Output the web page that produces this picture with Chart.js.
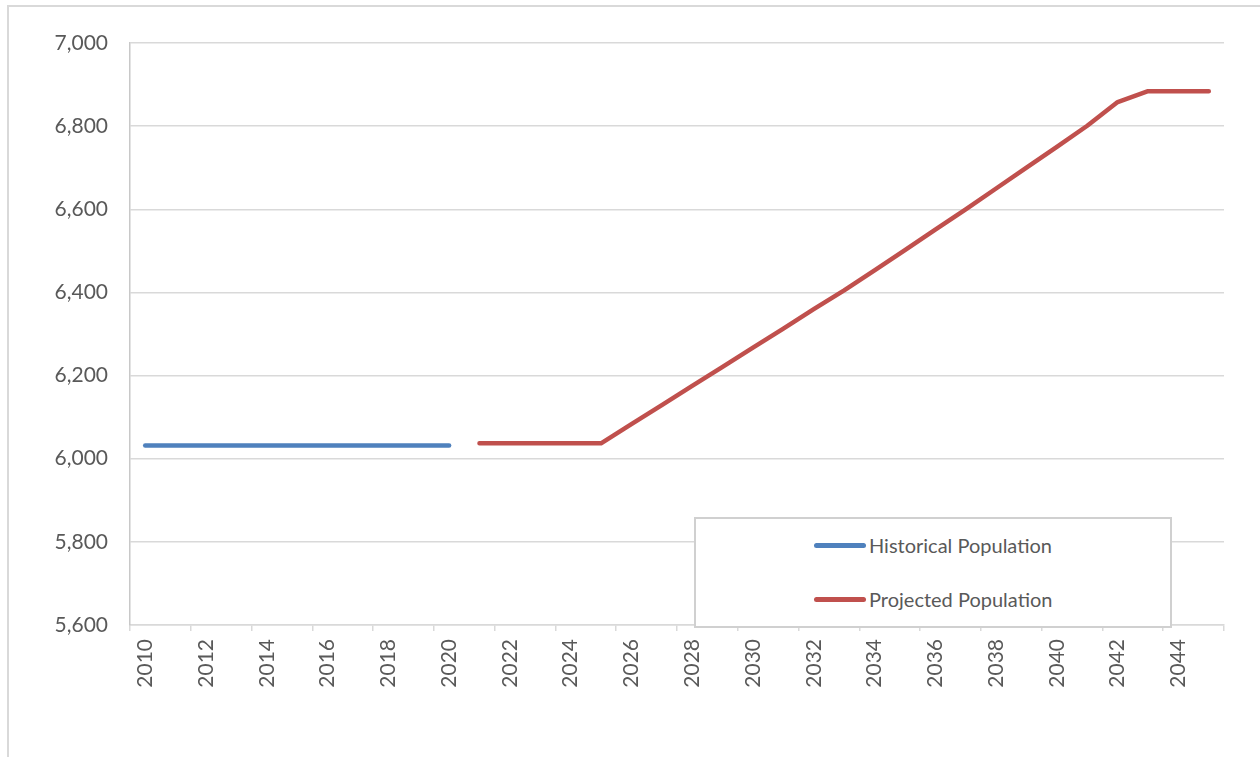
<!DOCTYPE html>
<html>
<head>
<meta charset="utf-8">
<script src="https://cdn.jsdelivr.net/npm/chart.js@4.4.1/dist/chart.umd.min.js"></script>
<style>
  body { margin: 0; background: #fff; }
  #wrap { position: relative; width: 1260px; height: 757px; }
  #frame { position: absolute; left: 7px; top: 5px; right: 0; bottom: 0;
           border-top: 2px solid #d9d9d9; border-left: 2px solid #d9d9d9; }
  #legend { position: absolute; left: 694px; top: 517px; width: 474px; height: 107px;
            background: #fff; border: 2px solid #d0d0d0; font-family: Lato, "Open Sans", sans-serif;
            font-size: 20px; color: #595959; }
  .item { position: absolute; left: 118px; display: flex; align-items: center; height: 24px; }
  .swatch { width: 52px; height: 5px; border-radius: 3px; margin-right: 3px; }
</style>
</head>
<body>
<div id="wrap">
  <div id="frame"></div>
  <canvas id="popChart" width="1260" height="757"></canvas>
  <div id="legend"></div>
</div>
<script>
// Years on the category axis
const years = [];
for (let y = 2010; y <= 2045; y++) years.push(String(y));

// Historical population 2010-2020, nothing after
const historical = [6032, 6032, 6032, 6032, 6032, 6032, 6032, 6032, 6032, 6032, 6032,
  null, null, null, null, null, null, null, null, null, null, null, null, null, null,
  null, null, null, null, null, null, null, null, null, null, null];

// Projected population 2021-2045
const projected = [null, null, null, null, null, null, null, null, null, null, null,
  6037, 6037, 6037, 6037, 6037, 6083, 6129, 6175, 6221, 6267, 6313, 6360, 6405, 6453,
  6502, 6551, 6600, 6650, 6700, 6750, 6801, 6858, 6884, 6884, 6884];

const seriesNames = ['Historical Population', 'Projected Population'];
const seriesColors = ['#4f81bd', '#c0504d'];

const fontFamily = 'Lato, "Open Sans", sans-serif';
const textColor = '#595959';

const ctx = document.getElementById('popChart').getContext('2d');
const chart = new Chart(ctx, {
  type: 'line',
  data: {
    labels: years,
    datasets: [
      {
        label: seriesNames[0],
        data: historical,
        borderColor: seriesColors[0],
        borderWidth: 4.5,
        borderCapStyle: 'round',
        pointRadius: 0,
        tension: 0,
      },
      {
        label: seriesNames[1],
        data: projected,
        borderColor: seriesColors[1],
        borderWidth: 4.5,
        borderCapStyle: 'round',
        borderJoinStyle: 'round',
        pointRadius: 0,
        tension: 0,
      },
    ],
  },
  options: {
    responsive: false,
    animation: false,
    layout: { padding: { top: 43, right: 36, left: 0, bottom: 0 } },
    plugins: { legend: { display: false }, tooltip: { enabled: false } },
    scales: {
      x: {
        offset: true,
        afterFit: (s) => { s.height = 132; },
        border: { color: '#d9d9d9', width: 1.5 },
        grid: {
          offset: true,
          drawOnChartArea: false,
          drawTicks: true,
          tickLength: 6,
          lineWidth: 1.5,
          tickColor: (c) => (c.index === undefined || c.index % 2 === 0 ? '#d9d9d9' : 'rgba(0,0,0,0)'),
          color: (c) => (c.index === undefined || c.index % 2 === 0 ? '#d9d9d9' : 'rgba(0,0,0,0)'),
        },
        ticks: {
          autoSkip: false,
          minRotation: 90,
          maxRotation: 90,
          padding: 8,
          color: textColor,
          font: { family: fontFamily, size: 21 },
          callback: function (val, i) { return i % 2 === 0 ? this.getLabelForValue(val) : ''; },
        },
      },
      y: {
        min: 5600,
        max: 7000,
        afterFit: (s) => { s.width = 130; },
        border: { color: '#c8c8c8', width: 1.5 },
        grid: { color: '#d9d9d9', lineWidth: 1.5, drawTicks: false },
        ticks: {
          stepSize: 200,
          padding: 22,
          color: textColor,
          font: { family: fontFamily, size: 21 },
          callback: (v) => v.toLocaleString('en-US'),
        },
      },
    },
  },
});

// Legend box inside the plot, built from the datasets
const legend = document.getElementById('legend');
chart.data.datasets.forEach((ds, i) => {
  const item = document.createElement('div');
  item.className = 'item';
  item.style.top = (14 + i * 54) + 'px';
  const sw = document.createElement('span');
  sw.className = 'swatch';
  sw.style.background = ds.borderColor;
  const label = document.createElement('span');
  label.textContent = ds.label;
  item.appendChild(sw);
  item.appendChild(label);
  legend.appendChild(item);
});
</script>
</body>
</html>
